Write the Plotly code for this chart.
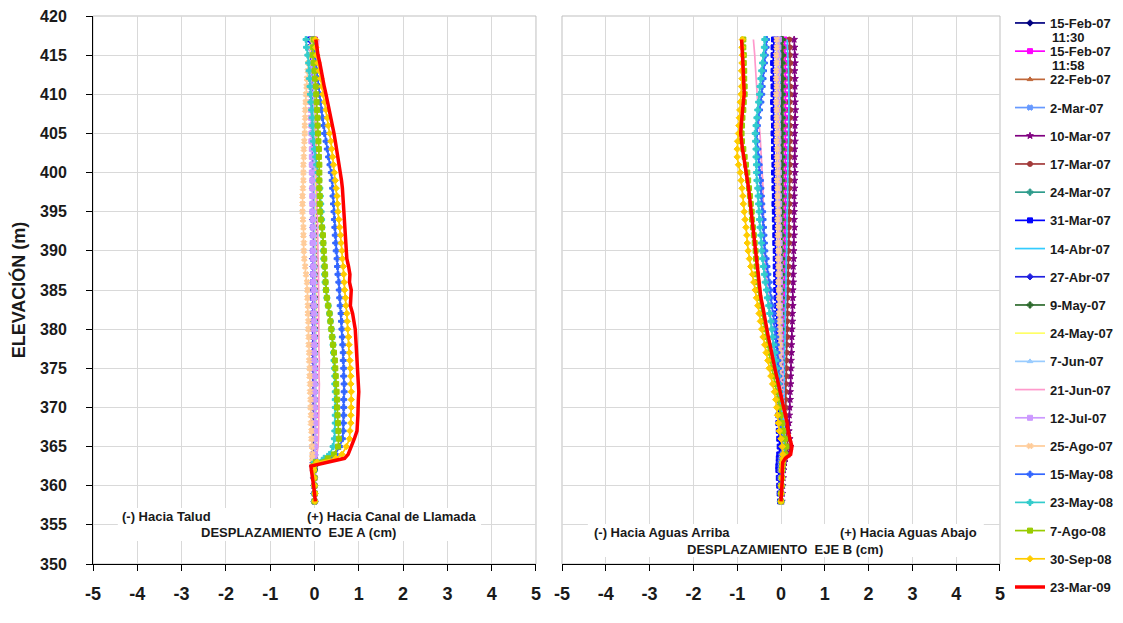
import plotly.graph_objects as go

# ---------------- data ----------------
ELEV = [417, 416, 415, 414, 413, 412, 411, 410, 409, 408,
        407, 406, 405, 404, 403, 402, 401, 400, 399, 398,
        397, 396, 395, 394, 393, 392, 391, 390, 389, 388,
        387, 386, 385, 384, 383, 382, 381, 380, 379, 378,
        377, 376, 375, 374, 373, 372, 371, 370, 369, 368,
        367, 366, 365, 364, 363.5, 363, 362.5, 362, 361, 360,
        359, 358]

DATES = ["15-Feb-07", "15-Feb-07", "22-Feb-07", "2-Mar-07", "10-Mar-07",
         "17-Mar-07", "24-Mar-07", "31-Mar-07", "14-Abr-07", "27-Abr-07",
         "9-May-07", "24-May-07", "7-Jun-07", "21-Jun-07", "12-Jul-07",
         "25-Ago-07", "15-May-08", "23-May-08", "7-Ago-08", "30-Sep-08",
         "23-Mar-09"]
TIMES = ["11:30", "11:58"]
X_TICKS = [-5, -4, -3, -2, -1, 0, 1, 2, 3, 4, 5]
X_TICK_TEXT = ["-5", "-4", "-3", "-2", "-1", "0", "1", "2", "3", "4", "5"]
Y_TICKS = [350, 355, 360, 365, 370, 375, 380, 385, 390, 395, 400, 405, 410, 415, 420]

# ---- Eje A (left panel) ----
A_15FEB_1130 = [0, 0, 0, 0, 0, 0, 0, 0, 0, 0,
                0, 0, 0, 0, 0, 0, 0, 0, 0, 0,
                0, 0, 0, 0, 0, 0, 0, 0, 0, 0,
                0, 0, 0, 0, 0, 0, 0, 0, 0, 0,
                0, 0, 0, 0, 0, 0, 0, 0, 0, 0,
                0, 0, 0, 0, 0, 0, 0, 0, 0, 0,
                0, 0]
A_15FEB_1158 = [0.01, 0.00, 0.01, 0.00, -0.01, 0.00, 0.01, 0.00, 0.00, 0.01,
                0.00, -0.01, 0.00, 0.01, 0.00, 0.00, -0.01, 0.00, 0.01, 0.00,
                0.00, 0.01, 0.00, -0.01, 0.00, 0.00, 0.01, 0.00, 0.00, -0.01,
                0.00, 0.01, 0.00, 0.00, -0.01, 0.00, 0.01, 0.00, 0.00, 0.00,
                -0.01, 0.00, 0.01, 0.00, 0.00, -0.01, 0.00, 0.00, 0.01, 0.00,
                0.00, -0.01, 0.00, 0.00, 0.01, 0.00, 0.00, -0.01, 0.00, 0.00,
                0.01, 0.00]
A_22FEB = [0.02, 0.01, 0.02, 0.01, 0.01, 0.02, 0.01, 0.00, 0.01, 0.02,
           0.01, 0.01, 0.00, 0.01, 0.02, 0.01, 0.01, 0.00, 0.01, 0.01,
           0.02, 0.01, 0.00, 0.01, 0.01, 0.00, 0.01, 0.02, 0.01, 0.01,
           0.00, 0.01, 0.01, 0.00, 0.01, 0.01, 0.00, 0.01, 0.01, 0.00,
           0.01, 0.00, 0.00, 0.01, 0.01, 0.00, 0.00, 0.01, 0.00, 0.00,
           0.01, 0.00, 0.00, 0.00, 0.00, 0.01, 0.00, 0.00, 0.00, 0.00,
           0.00, 0.00]
A_2MAR = [-0.03, -0.02, -0.02, -0.03, -0.02, -0.02, -0.01, -0.02, -0.02, -0.01,
          -0.02, -0.01, -0.01, -0.02, -0.01, -0.01, -0.02, -0.01, -0.01, -0.01,
          -0.02, -0.01, -0.01, 0.00, -0.01, -0.01, -0.01, 0.00, -0.01, -0.01,
          0.00, -0.01, 0.00, -0.01, 0.00, 0.00, -0.01, 0.00, 0.00, -0.01,
          0.00, 0.00, 0.00, -0.01, 0.00, 0.00, 0.01, 0.00, 0.00, 0.00,
          0.00, 0.01, 0.00, 0.00, 0.00, -0.01, -0.01, 0.00, 0.00, 0.00,
          0.00, 0.00]
A_10MAR = [-0.02, -0.01, -0.02, -0.01, -0.01, 0.00, -0.01, -0.01, 0.00, -0.01,
           0.00, -0.01, 0.00, 0.00, -0.01, 0.00, 0.00, -0.01, 0.00, 0.00,
           0.01, 0.00, 0.00, 0.00, 0.01, 0.00, 0.00, 0.01, 0.00, 0.00,
           0.01, 0.00, 0.01, 0.00, 0.00, 0.01, 0.00, 0.01, 0.00, 0.00,
           0.01, 0.00, 0.00, 0.01, 0.00, 0.00, 0.01, 0.00, 0.00, 0.01,
           0.00, 0.00, 0.01, 0.00, 0.00, -0.01, -0.01, 0.00, 0.00, 0.00,
           0.00, 0.00]
A_17MAR = [0.02, 0.02, 0.01, 0.02, 0.01, 0.01, 0.02, 0.01, 0.01, 0.01,
           0.02, 0.01, 0.01, 0.00, 0.01, 0.01, 0.02, 0.01, 0.01, 0.00,
           0.01, 0.01, 0.00, 0.01, 0.01, 0.00, 0.01, 0.01, 0.00, 0.01,
           0.00, 0.01, 0.01, 0.00, 0.01, 0.00, 0.00, 0.01, 0.00, 0.01,
           0.00, 0.00, 0.01, 0.00, 0.00, 0.01, 0.00, 0.00, 0.00, 0.01,
           0.00, 0.00, 0.01, 0.00, 0.00, 0.00, -0.01, 0.00, 0.00, 0.00,
           0.00, 0.00]
A_24MAR = [-0.08, -0.07, -0.06, -0.05, -0.05, -0.04, -0.04, -0.04, -0.03, -0.03,
           -0.03, -0.03, -0.02, -0.03, -0.02, -0.02, -0.02, -0.02, -0.02, -0.01,
           -0.02, -0.01, -0.01, -0.01, -0.02, -0.01, -0.01, -0.01, -0.01, 0.00,
           -0.01, -0.01, 0.00, -0.01, 0.00, 0.00, -0.01, 0.00, 0.00, 0.00,
           0.00, -0.01, 0.00, 0.00, 0.00, 0.00, 0.00, 0.00, 0.01, 0.00,
           0.00, 0.01, 0.01, 0.00, 0.00, -0.01, -0.01, -0.01, 0.00, 0.00,
           0.00, 0.00]
A_31MAR = [-0.10, -0.09, -0.08, -0.07, -0.06, -0.06, -0.05, -0.05, -0.05, -0.04,
           -0.04, -0.04, -0.04, -0.04, -0.03, -0.03, -0.04, -0.03, -0.03, -0.03,
           -0.03, -0.03, -0.03, -0.03, -0.03, -0.03, -0.02, -0.03, -0.03, -0.02,
           -0.03, -0.03, -0.02, -0.03, -0.02, -0.03, -0.02, -0.02, -0.03, -0.02,
           -0.02, -0.02, -0.03, -0.02, -0.02, -0.02, -0.02, -0.02, -0.01, -0.02,
           -0.02, -0.02, -0.01, -0.02, -0.02, -0.03, -0.03, -0.02, -0.01, -0.01,
           0.00, 0.00]
A_14ABR = [-0.04, -0.03, -0.03, -0.03, -0.02, -0.02, -0.02, -0.03, -0.02, -0.02,
           -0.02, -0.01, -0.02, -0.01, -0.01, -0.02, -0.01, -0.01, -0.01, -0.01,
           -0.01, 0.00, -0.01, -0.01, 0.00, -0.01, 0.00, 0.00, -0.01, 0.00,
           0.00, 0.00, -0.01, 0.00, 0.00, 0.00, 0.00, 0.01, 0.00, 0.00,
           0.00, 0.01, 0.00, 0.00, 0.01, 0.00, 0.00, 0.01, 0.00, 0.00,
           0.01, 0.00, 0.00, 0.00, 0.00, -0.01, -0.01, 0.00, 0.00, 0.00,
           0.00, 0.00]
A_27ABR = [-0.07, -0.06, -0.06, -0.05, -0.05, -0.05, -0.04, -0.04, -0.04, -0.04,
           -0.04, -0.04, -0.03, -0.04, -0.03, -0.03, -0.04, -0.03, -0.03, -0.04,
           -0.03, -0.03, -0.03, -0.04, -0.03, -0.03, -0.03, -0.03, -0.04, -0.03,
           -0.03, -0.03, -0.03, -0.03, -0.04, -0.03, -0.03, -0.03, -0.03, -0.03,
           -0.03, -0.03, -0.02, -0.03, -0.03, -0.02, -0.03, -0.02, -0.02, -0.02,
           -0.02, -0.02, -0.02, -0.02, -0.02, -0.03, -0.04, -0.03, -0.02, -0.01,
           -0.01, 0.00]
A_9MAY = [-0.03, -0.02, -0.02, -0.02, -0.01, -0.01, -0.02, -0.01, -0.01, -0.01,
          0.00, -0.01, -0.01, 0.00, -0.01, 0.00, 0.00, -0.01, 0.00, 0.00,
          0.00, 0.00, -0.01, 0.00, 0.00, 0.00, 0.00, 0.00, 0.01, 0.00,
          0.00, 0.00, 0.00, 0.01, 0.00, 0.00, 0.00, 0.01, 0.00, 0.00,
          0.01, 0.00, 0.00, 0.00, 0.01, 0.00, 0.01, 0.00, 0.00, 0.01,
          0.00, 0.00, 0.00, 0.00, 0.00, -0.01, -0.01, 0.00, 0.00, 0.00,
          0.00, 0.00]
A_24MAY = [0.03, 0.02, 0.02, 0.01, 0.02, 0.01, 0.01, 0.02, 0.01, 0.01,
           0.01, 0.02, 0.01, 0.01, 0.02, 0.01, 0.01, 0.01, 0.02, 0.01,
           0.02, 0.02, 0.01, 0.02, 0.02, 0.02, 0.03, 0.02, 0.02, 0.03,
           0.02, 0.03, 0.03, 0.02, 0.03, 0.03, 0.03, 0.02, 0.03, 0.03,
           0.03, 0.03, 0.03, 0.04, 0.03, 0.03, 0.03, 0.04, 0.03, 0.03,
           0.03, 0.03, 0.02, 0.02, 0.01, 0.00, 0.00, 0.00, 0.00, 0.00,
           0.00, 0.00]
A_7JUN = [-0.05, -0.04, -0.04, -0.03, -0.03, -0.03, -0.02, -0.03, -0.02, -0.02,
          -0.02, -0.02, -0.02, -0.01, -0.02, -0.01, -0.01, -0.01, -0.01, -0.01,
          0.00, -0.01, 0.00, 0.00, 0.00, 0.00, 0.01, 0.00, 0.01, 0.01,
          0.01, 0.01, 0.02, 0.01, 0.02, 0.02, 0.02, 0.02, 0.02, 0.03,
          0.02, 0.03, 0.03, 0.03, 0.03, 0.03, 0.03, 0.03, 0.03, 0.03,
          0.03, 0.03, 0.02, 0.02, 0.01, 0.00, -0.01, 0.00, 0.00, 0.00,
          0.00, 0.00]
A_21JUN = [0.10, 0.08, 0.06, 0.04, 0.03, 0.03, 0.02, 0.02, 0.03, 0.03,
           0.03, 0.03, 0.03, 0.04, 0.04, 0.04, 0.04, 0.04, 0.05, 0.05,
           0.06, 0.06, 0.06, 0.07, 0.07, 0.08, 0.08, 0.08, 0.08, 0.09,
           0.09, 0.09, 0.09, 0.09, 0.10, 0.09, 0.10, 0.10, 0.10, 0.10,
           0.10, 0.11, 0.10, 0.10, 0.11, 0.10, 0.10, 0.10, 0.10, 0.10,
           0.09, 0.09, 0.08, 0.06, 0.04, 0.01, 0.00, 0.00, 0.00, 0.00,
           0.00, 0.00]
A_12JUL = [-0.02, -0.04, -0.06, -0.07, -0.08, -0.08, -0.09, -0.09, -0.08, -0.08,
           -0.08, -0.07, -0.07, -0.07, -0.06, -0.06, -0.06, -0.06, -0.05, -0.05,
           -0.05, -0.05, -0.05, -0.04, -0.04, -0.04, -0.04, -0.04, -0.03, -0.03,
           -0.03, -0.03, -0.02, -0.02, -0.02, -0.02, -0.02, -0.02, -0.01, -0.01,
           -0.01, -0.01, -0.01, 0.00, 0.00, 0.00, 0.00, 0.00, 0.00, 0.01,
           0.01, 0.01, 0.01, 0.01, 0.00, 0.00, -0.01, -0.01, 0.00, 0.00,
           0.00, 0.00]
A_25AGO = [-0.05, -0.08, -0.12, -0.14, -0.15, -0.17, -0.18, -0.19, -0.20, -0.21,
           -0.21, -0.22, -0.22, -0.23, -0.24, -0.24, -0.25, -0.25, -0.25, -0.26,
           -0.27, -0.27, -0.27, -0.26, -0.25, -0.25, -0.24, -0.24, -0.23, -0.21,
           -0.19, -0.17, -0.16, -0.16, -0.15, -0.15, -0.14, -0.14, -0.13, -0.13,
           -0.12, -0.12, -0.11, -0.11, -0.10, -0.10, -0.09, -0.09, -0.08, -0.08,
           -0.07, -0.07, -0.06, -0.05, -0.05, -0.04, -0.04, -0.03, -0.02, -0.01,
           0.00, 0.00]
A_15MAY08 = [0.00, 0.00, 0.01, 0.03, 0.05, 0.07, 0.09, 0.11, 0.13, 0.16,
             0.18, 0.21, 0.23, 0.26, 0.29, 0.32, 0.35, 0.38, 0.40, 0.41,
             0.42, 0.43, 0.44, 0.45, 0.46, 0.47, 0.48, 0.49, 0.51, 0.52,
             0.53, 0.55, 0.56, 0.57, 0.58, 0.60, 0.61, 0.62, 0.63, 0.64,
             0.65, 0.65, 0.66, 0.66, 0.67, 0.67, 0.66, 0.66, 0.66, 0.65,
             0.65, 0.63, 0.57, 0.47, 0.36, 0.04, -0.03, -0.02, -0.01, 0.00,
             0.00, 0.01]
A_23MAY08 = [-0.19, -0.18, -0.15, -0.13, -0.12, -0.11, -0.10, -0.09, -0.08, -0.06,
             -0.05, -0.05, -0.04, -0.02, 0.00, 0.03, 0.05, 0.08, 0.10, 0.12,
             0.13, 0.14, 0.15, 0.16, 0.17, 0.18, 0.19, 0.20, 0.21, 0.22,
             0.23, 0.24, 0.26, 0.28, 0.31, 0.34, 0.36, 0.38, 0.40, 0.42,
             0.43, 0.44, 0.45, 0.46, 0.46, 0.47, 0.47, 0.47, 0.47, 0.47,
             0.46, 0.45, 0.42, 0.34, 0.22, 0.00, -0.03, -0.02, -0.01, 0.00,
             0.00, 0.00]
A_7AGO08 = [-0.02, -0.03, -0.04, -0.02, 0.00, 0.01, 0.03, 0.04, 0.05, 0.06,
            0.07, 0.07, 0.08, 0.09, 0.10, 0.10, 0.11, 0.11, 0.11, 0.11,
            0.12, 0.12, 0.13, 0.15, 0.17, 0.19, 0.20, 0.21, 0.22, 0.23,
            0.24, 0.25, 0.26, 0.28, 0.31, 0.34, 0.36, 0.38, 0.40, 0.42,
            0.44, 0.46, 0.47, 0.48, 0.49, 0.50, 0.51, 0.51, 0.52, 0.53,
            0.54, 0.55, 0.53, 0.44, 0.30, 0.03, -0.02, -0.01, 0.00, 0.00,
            0.01, 0.00]
A_30SEP08 = [0.02, 0.03, 0.05, 0.08, 0.11, 0.14, 0.17, 0.19, 0.23, 0.26,
             0.29, 0.31, 0.34, 0.37, 0.39, 0.41, 0.43, 0.45, 0.47, 0.49,
             0.51, 0.52, 0.53, 0.55, 0.57, 0.59, 0.60, 0.62, 0.63, 0.65,
             0.66, 0.67, 0.68, 0.70, 0.71, 0.73, 0.74, 0.75, 0.77, 0.78,
             0.79, 0.80, 0.81, 0.82, 0.82, 0.83, 0.83, 0.83, 0.82, 0.82,
             0.80, 0.79, 0.72, 0.62, 0.48, 0.06, -0.02, -0.02, -0.01, 0.00,
             0.01, 0.01]
A_23MAR09 = [0.03, 0.05, 0.08, 0.12, 0.15, 0.19, 0.22, 0.26, 0.30, 0.33,
             0.37, 0.40, 0.44, 0.47, 0.50, 0.53, 0.56, 0.59, 0.61, 0.63,
             0.64, 0.65, 0.66, 0.67, 0.69, 0.70, 0.70, 0.71, 0.73, 0.77,
             0.80, 0.79, 0.83, 0.82, 0.81, 0.86, 0.90, 0.92, 0.93, 0.94,
             0.96, 0.97, 0.98, 0.99, 0.99, 1.00, 0.99, 0.99, 0.98, 0.97,
             0.96, 0.90, 0.84, 0.76, 0.68, 0.30, -0.08, -0.07, -0.04, -0.02,
             0.00, 0.02]

# ---- Eje B (right panel) ----
B_15FEB_1130 = [0, 0, 0, 0, 0, 0, 0, 0, 0, 0,
                0, 0, 0, 0, 0, 0, 0, 0, 0, 0,
                0, 0, 0, 0, 0, 0, 0, 0, 0, 0,
                0, 0, 0, 0, 0, 0, 0, 0, 0, 0,
                0, 0, 0, 0, 0, 0, 0, 0, 0, 0,
                0, 0, 0, 0, 0, 0, 0, 0, 0, 0,
                0, 0]
B_15FEB_1158 = [0.08, 0.09, 0.09, 0.10, 0.10, 0.10, 0.11, 0.10, 0.10, 0.11,
                0.11, 0.10, 0.10, 0.11, 0.11, 0.10, 0.10, 0.10, 0.11, 0.10,
                0.10, 0.10, 0.09, 0.10, 0.09, 0.09, 0.09, 0.09, 0.08, 0.08,
                0.08, 0.08, 0.07, 0.07, 0.07, 0.07, 0.06, 0.06, 0.06, 0.06,
                0.05, 0.05, 0.05, 0.05, 0.04, 0.04, 0.04, 0.04, 0.04, 0.04,
                0.05, 0.06, 0.06, 0.05, 0.03, 0.02, 0.02, 0.02, 0.01, 0.01,
                0.01, 0.00]
B_22FEB = [0.04, 0.05, 0.05, 0.06, 0.05, 0.06, 0.06, 0.05, 0.06, 0.06,
           0.05, 0.06, 0.05, 0.05, 0.06, 0.05, 0.05, 0.05, 0.06, 0.05,
           0.05, 0.05, 0.04, 0.05, 0.04, 0.04, 0.05, 0.04, 0.04, 0.04,
           0.04, 0.03, 0.04, 0.03, 0.03, 0.04, 0.03, 0.03, 0.03, 0.03,
           0.02, 0.03, 0.02, 0.02, 0.02, 0.02, 0.02, 0.02, 0.02, 0.02,
           0.03, 0.04, 0.05, 0.03, 0.02, 0.01, 0.01, 0.01, 0.01, 0.00,
           0.00, 0.00]
B_2MAR = [-0.02, -0.02, -0.03, -0.02, -0.03, -0.02, -0.02, -0.03, -0.02, -0.02,
          -0.02, -0.03, -0.02, -0.02, -0.02, -0.01, -0.02, -0.02, -0.01, -0.02,
          -0.01, -0.01, -0.02, -0.01, -0.01, -0.01, -0.01, 0.00, -0.01, -0.01,
          0.00, -0.01, 0.00, 0.00, -0.01, 0.00, 0.00, 0.00, 0.00, 0.01,
          0.00, 0.00, 0.01, 0.00, 0.01, 0.01, 0.01, 0.01, 0.02, 0.02,
          0.03, 0.05, 0.06, 0.04, 0.02, 0.01, 0.01, 0.01, 0.00, 0.00,
          0.00, 0.00]
B_10MAR = [0.30, 0.31, 0.32, 0.32, 0.31, 0.32, 0.32, 0.31, 0.32, 0.33,
           0.32, 0.32, 0.31, 0.32, 0.31, 0.31, 0.32, 0.32, 0.31, 0.31,
           0.30, 0.31, 0.30, 0.30, 0.31, 0.30, 0.29, 0.29, 0.29, 0.28,
           0.28, 0.28, 0.27, 0.27, 0.27, 0.26, 0.26, 0.25, 0.25, 0.24,
           0.24, 0.23, 0.23, 0.22, 0.22, 0.21, 0.21, 0.20, 0.19, 0.18,
           0.18, 0.20, 0.22, 0.16, 0.10, 0.08, 0.06, 0.06, 0.05, 0.04,
           0.03, 0.02]
B_17MAR = [0.19, 0.20, 0.20, 0.21, 0.20, 0.20, 0.21, 0.21, 0.20, 0.21,
           0.21, 0.20, 0.20, 0.20, 0.21, 0.20, 0.20, 0.19, 0.20, 0.19,
           0.19, 0.19, 0.19, 0.18, 0.18, 0.18, 0.18, 0.17, 0.17, 0.17,
           0.16, 0.16, 0.16, 0.15, 0.15, 0.15, 0.14, 0.14, 0.14, 0.13,
           0.13, 0.12, 0.12, 0.12, 0.11, 0.11, 0.10, 0.10, 0.10, 0.10,
           0.11, 0.14, 0.16, 0.12, 0.07, 0.05, 0.04, 0.04, 0.03, 0.02,
           0.01, 0.01]
B_24MAR = [0.00, 0.01, 0.02, 0.02, 0.03, 0.02, 0.03, 0.03, 0.02, 0.03,
           0.03, 0.02, 0.03, 0.02, 0.02, 0.03, 0.02, 0.02, 0.02, 0.02,
           0.02, 0.01, 0.02, 0.01, 0.01, 0.02, 0.01, 0.01, 0.01, 0.01,
           0.01, 0.01, 0.01, 0.00, 0.01, 0.00, 0.00, 0.01, 0.00, 0.00,
           0.00, 0.00, 0.01, 0.00, 0.00, 0.01, 0.01, 0.01, 0.01, 0.02,
           0.03, 0.05, 0.07, 0.05, 0.03, 0.02, 0.01, 0.01, 0.01, 0.01,
           0.00, 0.00]
B_31MAR = [-0.16, -0.17, -0.17, -0.18, -0.17, -0.18, -0.17, -0.17, -0.18, -0.17,
           -0.17, -0.16, -0.17, -0.16, -0.16, -0.16, -0.15, -0.16, -0.15, -0.15,
           -0.14, -0.15, -0.14, -0.14, -0.13, -0.13, -0.13, -0.12, -0.12, -0.12,
           -0.11, -0.11, -0.11, -0.10, -0.10, -0.10, -0.09, -0.09, -0.09, -0.08,
           -0.08, -0.08, -0.07, -0.07, -0.07, -0.07, -0.06, -0.06, -0.06, -0.06,
           -0.05, -0.04, -0.03, -0.04, -0.05, -0.05, -0.06, -0.06, -0.05, -0.04,
           -0.03, -0.02]
B_14ABR = [0.14, 0.15, 0.16, 0.17, 0.17, 0.17, 0.18, 0.18, 0.18, 0.18,
           0.17, 0.17, 0.17, 0.17, 0.16, 0.16, 0.16, 0.16, 0.15, 0.15,
           0.15, 0.15, 0.14, 0.14, 0.14, 0.13, 0.13, 0.13, 0.12, 0.12,
           0.12, 0.11, 0.11, 0.11, 0.10, 0.10, 0.10, 0.09, 0.09, 0.09,
           0.08, 0.08, 0.08, 0.07, 0.07, 0.07, 0.07, 0.06, 0.06, 0.06,
           0.07, 0.09, 0.11, 0.08, 0.05, 0.03, 0.03, 0.02, 0.02, 0.01,
           0.01, 0.00]
B_27ABR = [-0.08, -0.09, -0.09, -0.10, -0.09, -0.10, -0.10, -0.09, -0.10, -0.10,
           -0.09, -0.09, -0.10, -0.09, -0.09, -0.09, -0.08, -0.09, -0.08, -0.08,
           -0.08, -0.08, -0.07, -0.08, -0.07, -0.07, -0.07, -0.07, -0.06, -0.06,
           -0.06, -0.06, -0.05, -0.05, -0.05, -0.05, -0.05, -0.04, -0.04, -0.04,
           -0.04, -0.03, -0.03, -0.03, -0.03, -0.03, -0.02, -0.02, -0.02, -0.02,
           -0.01, 0.01, 0.02, 0.00, -0.02, -0.03, -0.03, -0.03, -0.02, -0.02,
           -0.01, -0.01]
B_9MAY = [0.03, 0.02, 0.03, 0.02, 0.02, 0.03, 0.02, 0.02, 0.02, 0.01,
          0.02, 0.02, 0.01, 0.02, 0.01, 0.01, 0.02, 0.01, 0.01, 0.01,
          0.00, 0.01, 0.01, 0.00, 0.01, 0.00, 0.00, 0.00, 0.01, 0.00,
          0.00, 0.00, -0.01, 0.00, 0.00, -0.01, 0.00, 0.00, -0.01, 0.00,
          0.00, 0.00, 0.00, 0.00, 0.01, 0.00, 0.01, 0.01, 0.01, 0.02,
          0.03, 0.05, 0.07, 0.05, 0.03, 0.02, 0.01, 0.01, 0.01, 0.00,
          0.00, 0.00]
B_24MAY = [-0.05, -0.05, -0.04, -0.05, -0.04, -0.04, -0.05, -0.04, -0.04, -0.04,
           -0.04, -0.04, -0.03, -0.04, -0.04, -0.03, -0.03, -0.04, -0.03, -0.03,
           -0.03, -0.03, -0.03, -0.02, -0.03, -0.02, -0.02, -0.02, -0.02, -0.02,
           -0.02, -0.01, -0.02, -0.01, -0.01, -0.01, -0.01, -0.01, 0.00, -0.01,
           0.00, 0.00, 0.00, 0.00, 0.01, 0.00, 0.01, 0.01, 0.01, 0.02,
           0.03, 0.05, 0.06, 0.04, 0.02, 0.01, 0.01, 0.01, 0.00, 0.00,
           0.00, 0.00]
B_7JUN = [-0.08, -0.08, -0.09, -0.08, -0.09, -0.08, -0.08, -0.09, -0.08, -0.08,
          -0.08, -0.07, -0.08, -0.07, -0.07, -0.07, -0.07, -0.06, -0.07, -0.06,
          -0.06, -0.06, -0.06, -0.05, -0.05, -0.05, -0.05, -0.04, -0.05, -0.04,
          -0.04, -0.04, -0.03, -0.03, -0.03, -0.03, -0.02, -0.02, -0.02, -0.02,
          -0.01, -0.01, -0.01, 0.00, 0.00, 0.00, 0.01, 0.01, 0.01, 0.02,
          0.03, 0.05, 0.06, 0.04, 0.02, 0.01, 0.01, 0.00, 0.00, 0.00,
          0.00, 0.00]
B_21JUN = [-0.63, -0.61, -0.60, -0.59, -0.58, -0.57, -0.56, -0.55, -0.54, -0.52,
           -0.51, -0.50, -0.48, -0.47, -0.46, -0.45, -0.44, -0.42, -0.42, -0.41,
           -0.41, -0.40, -0.40, -0.40, -0.39, -0.39, -0.38, -0.38, -0.37, -0.35,
           -0.34, -0.32, -0.31, -0.29, -0.27, -0.25, -0.23, -0.21, -0.19, -0.17,
           -0.15, -0.13, -0.11, -0.09, -0.07, -0.05, -0.03, -0.01, 0.01, 0.02,
           0.04, 0.06, 0.08, 0.06, 0.04, 0.03, 0.02, 0.02, 0.01, 0.01,
           0.00, 0.00]
B_12JUL = [-0.05, -0.06, -0.06, -0.07, -0.06, -0.07, -0.07, -0.06, -0.07, -0.07,
           -0.06, -0.07, -0.06, -0.06, -0.06, -0.05, -0.06, -0.05, -0.05, -0.05,
           -0.05, -0.04, -0.05, -0.04, -0.04, -0.04, -0.03, -0.04, -0.03, -0.03,
           -0.03, -0.02, -0.03, -0.02, -0.02, -0.02, -0.01, -0.02, -0.01, -0.01,
           0.00, -0.01, 0.00, 0.00, 0.01, 0.01, 0.01, 0.02, 0.02, 0.03,
           0.04, 0.06, 0.08, 0.05, 0.03, 0.02, 0.01, 0.01, 0.01, 0.00,
           0.00, 0.00]
B_25AGO = [-0.10, -0.10, -0.11, -0.10, -0.11, -0.11, -0.10, -0.11, -0.11, -0.10,
           -0.10, -0.10, -0.09, -0.10, -0.09, -0.09, -0.09, -0.08, -0.09, -0.08,
           -0.08, -0.08, -0.07, -0.08, -0.07, -0.07, -0.07, -0.06, -0.07, -0.06,
           -0.06, -0.06, -0.05, -0.05, -0.05, -0.05, -0.04, -0.04, -0.04, -0.03,
           -0.03, -0.03, -0.02, -0.02, -0.02, -0.01, -0.01, 0.00, 0.00, 0.01,
           0.02, 0.04, 0.06, 0.04, 0.02, 0.01, 0.01, 0.00, 0.00, 0.00,
           0.00, 0.00]
B_15MAY08 = [-0.33, -0.34, -0.36, -0.38, -0.40, -0.41, -0.43, -0.44, -0.46, -0.49,
             -0.52, -0.54, -0.56, -0.55, -0.53, -0.51, -0.50, -0.49, -0.47, -0.46,
             -0.45, -0.44, -0.42, -0.41, -0.40, -0.39, -0.38, -0.37, -0.34, -0.32,
             -0.30, -0.27, -0.25, -0.23, -0.21, -0.18, -0.16, -0.14, -0.12, -0.11,
             -0.09, -0.07, -0.06, -0.05, -0.04, -0.03, -0.03, -0.02, -0.02, -0.01,
             0.00, 0.02, 0.03, 0.02, 0.01, 0.00, 0.00, 0.00, 0.00, 0.00,
             0.00, 0.00]
B_23MAY08 = [-0.37, -0.38, -0.40, -0.42, -0.44, -0.46, -0.48, -0.49, -0.51, -0.53,
             -0.55, -0.57, -0.59, -0.58, -0.57, -0.57, -0.56, -0.56, -0.55, -0.53,
             -0.52, -0.51, -0.50, -0.49, -0.48, -0.46, -0.45, -0.44, -0.42, -0.40,
             -0.38, -0.36, -0.33, -0.31, -0.28, -0.26, -0.23, -0.21, -0.19, -0.17,
             -0.14, -0.12, -0.10, -0.08, -0.06, -0.04, -0.02, 0.00, 0.02, 0.04,
             0.06, 0.08, 0.09, 0.08, 0.05, 0.04, 0.03, 0.03, 0.02, 0.02,
             0.01, 0.00]
B_7AGO08 = [-0.86, -0.86, -0.85, -0.85, -0.84, -0.84, -0.83, -0.83, -0.85, -0.86,
            -0.88, -0.89, -0.90, -0.89, -0.86, -0.83, -0.80, -0.77, -0.75, -0.73,
            -0.71, -0.69, -0.67, -0.66, -0.64, -0.62, -0.60, -0.58, -0.57, -0.56,
            -0.55, -0.54, -0.52, -0.49, -0.46, -0.43, -0.40, -0.37, -0.34, -0.31,
            -0.28, -0.24, -0.21, -0.17, -0.13, -0.10, -0.07, -0.04, -0.01, 0.02,
            0.05, 0.09, 0.12, 0.10, 0.06, 0.04, 0.03, 0.02, 0.02, 0.01,
            0.00, 0.00]
B_30SEP08 = [-0.88, -0.89, -0.88, -0.89, -0.90, -0.89, -0.90, -0.91, -0.93, -0.94,
             -0.95, -0.96, -0.97, -0.99, -1.00, -1.00, -0.97, -0.93, -0.91, -0.89,
             -0.87, -0.86, -0.84, -0.82, -0.80, -0.78, -0.77, -0.75, -0.72, -0.69,
             -0.65, -0.62, -0.59, -0.56, -0.53, -0.50, -0.47, -0.44, -0.41, -0.37,
             -0.34, -0.30, -0.27, -0.23, -0.19, -0.15, -0.12, -0.10, -0.08, -0.06,
             -0.04, 0.00, 0.03, 0.04, 0.04, 0.03, 0.03, 0.02, 0.02, 0.01,
             0.01, 0.00]
B_23MAR09 = [-0.90, -0.90, -0.88, -0.87, -0.86, -0.85, -0.84, -0.84, -0.86, -0.88,
             -0.90, -0.91, -0.92, -0.91, -0.88, -0.85, -0.82, -0.78, -0.76, -0.74,
             -0.72, -0.70, -0.69, -0.67, -0.65, -0.63, -0.61, -0.59, -0.56, -0.54,
             -0.52, -0.51, -0.49, -0.46, -0.42, -0.39, -0.36, -0.33, -0.29, -0.25,
             -0.22, -0.18, -0.14, -0.10, -0.06, -0.02, 0.03, 0.08, 0.12, 0.14,
             0.16, 0.20, 0.25, 0.22, 0.10, 0.04, 0.03, 0.03, 0.03, 0.02,
             0.01, 0.00]

SERIES_A = [A_15FEB_1130, A_15FEB_1158, A_22FEB, A_2MAR, A_10MAR, A_17MAR, A_24MAR,
            A_31MAR, A_14ABR, A_27ABR, A_9MAY, A_24MAY, A_7JUN, A_21JUN, A_12JUL,
            A_25AGO, A_15MAY08, A_23MAY08, A_7AGO08, A_30SEP08, A_23MAR09]
SERIES_B = [B_15FEB_1130, B_15FEB_1158, B_22FEB, B_2MAR, B_10MAR, B_17MAR, B_24MAR,
            B_31MAR, B_14ABR, B_27ABR, B_9MAY, B_24MAY, B_7JUN, B_21JUN, B_12JUL,
            B_25AGO, B_15MAY08, B_23MAY08, B_7AGO08, B_30SEP08, B_23MAR09]

for s in SERIES_A + SERIES_B:
    assert len(s) == len(ELEV), len(s)

# ---------------- styles ----------------
COLORS = ["#000080", "#FF00FF", "#C0683A", "#6699FF", "#800080", "#A33B3B",
          "#2E9C8C", "#0000FF", "#33CCFF", "#2020E0", "#2E6B2E", "#FFFF66",
          "#99CCFF", "#FF99CC", "#CC99FF", "#FFCC99", "#3366FF", "#33CCCC",
          "#99CC00", "#FFCC00", "#FF0000"]
SYMBOLS = ["diamond", "square", "triangle-up", "x", "star", "circle", "cross",
           "square", None, "diamond", "cross", None, "triangle-up", None,
           "square", "x", "cross", "cross", "square", "diamond", None]
WIDTHS = [1.7] * 20 + [3.5]
FONT = "Liberation Sans, Arial, sans-serif"
TXT = "#1a1a1a"

# page body has an 8px margin: the figure is sized/shifted to compensate
PAGE_OFF = 8
W, H = 1123 - PAGE_OFF, 623 - PAGE_OFF
ML, MT = 93 - PAGE_OFF, 16 - PAGE_OFF
PW, PH = 907, 548
MR, MB = W - ML - PW, H - MT - PH

fig = go.Figure()
for i, name in enumerate(DATES):
    sym = SYMBOLS[i]
    mode = "lines+markers" if sym else "lines"
    mk = dict(symbol=sym, size=5, color=COLORS[i],
              line=dict(width=1, color=COLORS[i])) if sym else None
    for j, (vals, xa, ya) in enumerate([(SERIES_A[i], "x", "y"), (SERIES_B[i], "x2", "y2")]):
        fig.add_trace(go.Scatter(
            x=vals, y=ELEV, name=name, mode=mode, xaxis=xa, yaxis=ya,
            line=dict(color=COLORS[i], width=WIDTHS[i]),
            marker=mk, legendgroup="g%d" % i, showlegend=(j == 0),
        ))

axis_common = dict(
    range=[-5, 5], tickvals=X_TICKS, ticktext=X_TICK_TEXT, showgrid=True,
    gridcolor="#D9D9D9", gridwidth=1, zeroline=False, showline=True,
    linecolor="black", linewidth=1, ticks="outside", ticklen=6, tickcolor="black",
    tickfont=dict(family=FONT, size=18, color=TXT, weight="bold"),
    ticklabelstandoff=7, ticklabeloverflow="allow",
)
fig.update_layout(
    xaxis=dict(domain=[0, 0.4884], anchor="y", **axis_common),
    xaxis2=dict(domain=[0.5171, 1.0], anchor="y2", **axis_common),
    yaxis=dict(range=[350, 420], tickvals=Y_TICKS, showgrid=True,
               gridcolor="#D9D9D9", zeroline=False, showline=True,
               linecolor="black", ticks="outside", ticklen=6, tickcolor="black",
               tickfont=dict(family=FONT, size=16, color=TXT, weight="bold"),
               ticklabelstandoff=16, ticklabeloverflow="allow", anchor="x",
               title=dict(text="ELEVACIÓN (m)", standoff=9,
                          font=dict(family=FONT, size=18, color=TXT, weight="bold"))),
    yaxis2=dict(range=[350, 420], tickvals=Y_TICKS, showgrid=True,
                gridcolor="#D9D9D9", zeroline=False, showline=False,
                showticklabels=False, ticks="", anchor="x2"),
)

shapes = []
for xr, yr in [("x domain", "y domain"), ("x2 domain", "y2 domain")]:
    shapes.append(dict(type="rect", xref=xr, yref=yr, x0=0, x1=1, y0=0, y1=1,
                       line=dict(color="#BFBFBF", width=1), layer="below"))
# white label boxes
shapes.append(dict(type="rect", xref="x", yref="y", x0=-4.44, x1=3.76, y0=352.95, y1=357.15,
                   fillcolor="white", line=dict(width=0), layer="above"))
shapes.append(dict(type="rect", xref="x2", yref="y2", x0=-4.41, x1=4.63, y0=350.9, y1=355.1,
                   fillcolor="white", line=dict(width=0), layer="above"))

afont = dict(family=FONT, size=13, color=TXT, weight="bold")
annotations = [
    dict(text="(-) Hacia Talud", x=-4.4, y=356.1, xref="x", yref="y", xanchor="left"),
    dict(text="(+) Hacia Canal de Llamada", x=-0.22, y=356.1, xref="x", yref="y", xanchor="left"),
    dict(text="DESPLAZAMIENTO\u00a0 EJE A (cm)", x=-0.36, y=354.0, xref="x", yref="y", xanchor="center"),
    dict(text="(-) Hacia Aguas Arriba", x=-4.32, y=354.0, xref="x2", yref="y2", xanchor="left"),
    dict(text="(+) Hacia Aguas Abajo", x=1.30, y=354.0, xref="x2", yref="y2", xanchor="left"),
    dict(text="DESPLAZAMIENTO\u00a0 EJE B (cm)", x=0.09, y=351.9, xref="x2", yref="y2", xanchor="center"),
]
for a in annotations:
    a.update(showarrow=False, yanchor="middle", font=afont)

# legend geometry (page pixels)
LFS = 13
item_h = LFS * 1.3 + 3
first_c = PAGE_OFF + 5 + item_h / 2
last_c = 587
gap = (last_c - first_c) / 20 - item_h
step = item_h + gap
lfont = dict(family=FONT, size=LFS, color=TXT, weight="bold")


def px_to_paper_y(py):
    return (PAGE_OFF + MT + PH - py) / PH


for k, t in enumerate(TIMES):
    annotations.append(dict(text=t, x=(1050 - 93) / PW, y=px_to_paper_y(first_c + k * step + step / 2),
                            xref="paper", yref="paper", xanchor="left", yanchor="middle",
                            showarrow=False, font=lfont))

fig.update_layout(
    width=W, height=H,
    margin=dict(l=ML, r=MR, t=MT, b=MB, autoexpand=False),
    paper_bgcolor="white", plot_bgcolor="white",
    font=dict(family=FONT, color=TXT),
    shapes=shapes, annotations=annotations,
    showlegend=True,
    legend=dict(x=(1010 - 93) / PW, xanchor="left", xref="paper",
                y=1.0, yref="container", yanchor="top",
                font=lfont, tracegroupgap=gap, traceorder="grouped",
                bgcolor="rgba(0,0,0,0)", itemwidth=30, maxheight=H),
)

fig.write_html("out.html")
